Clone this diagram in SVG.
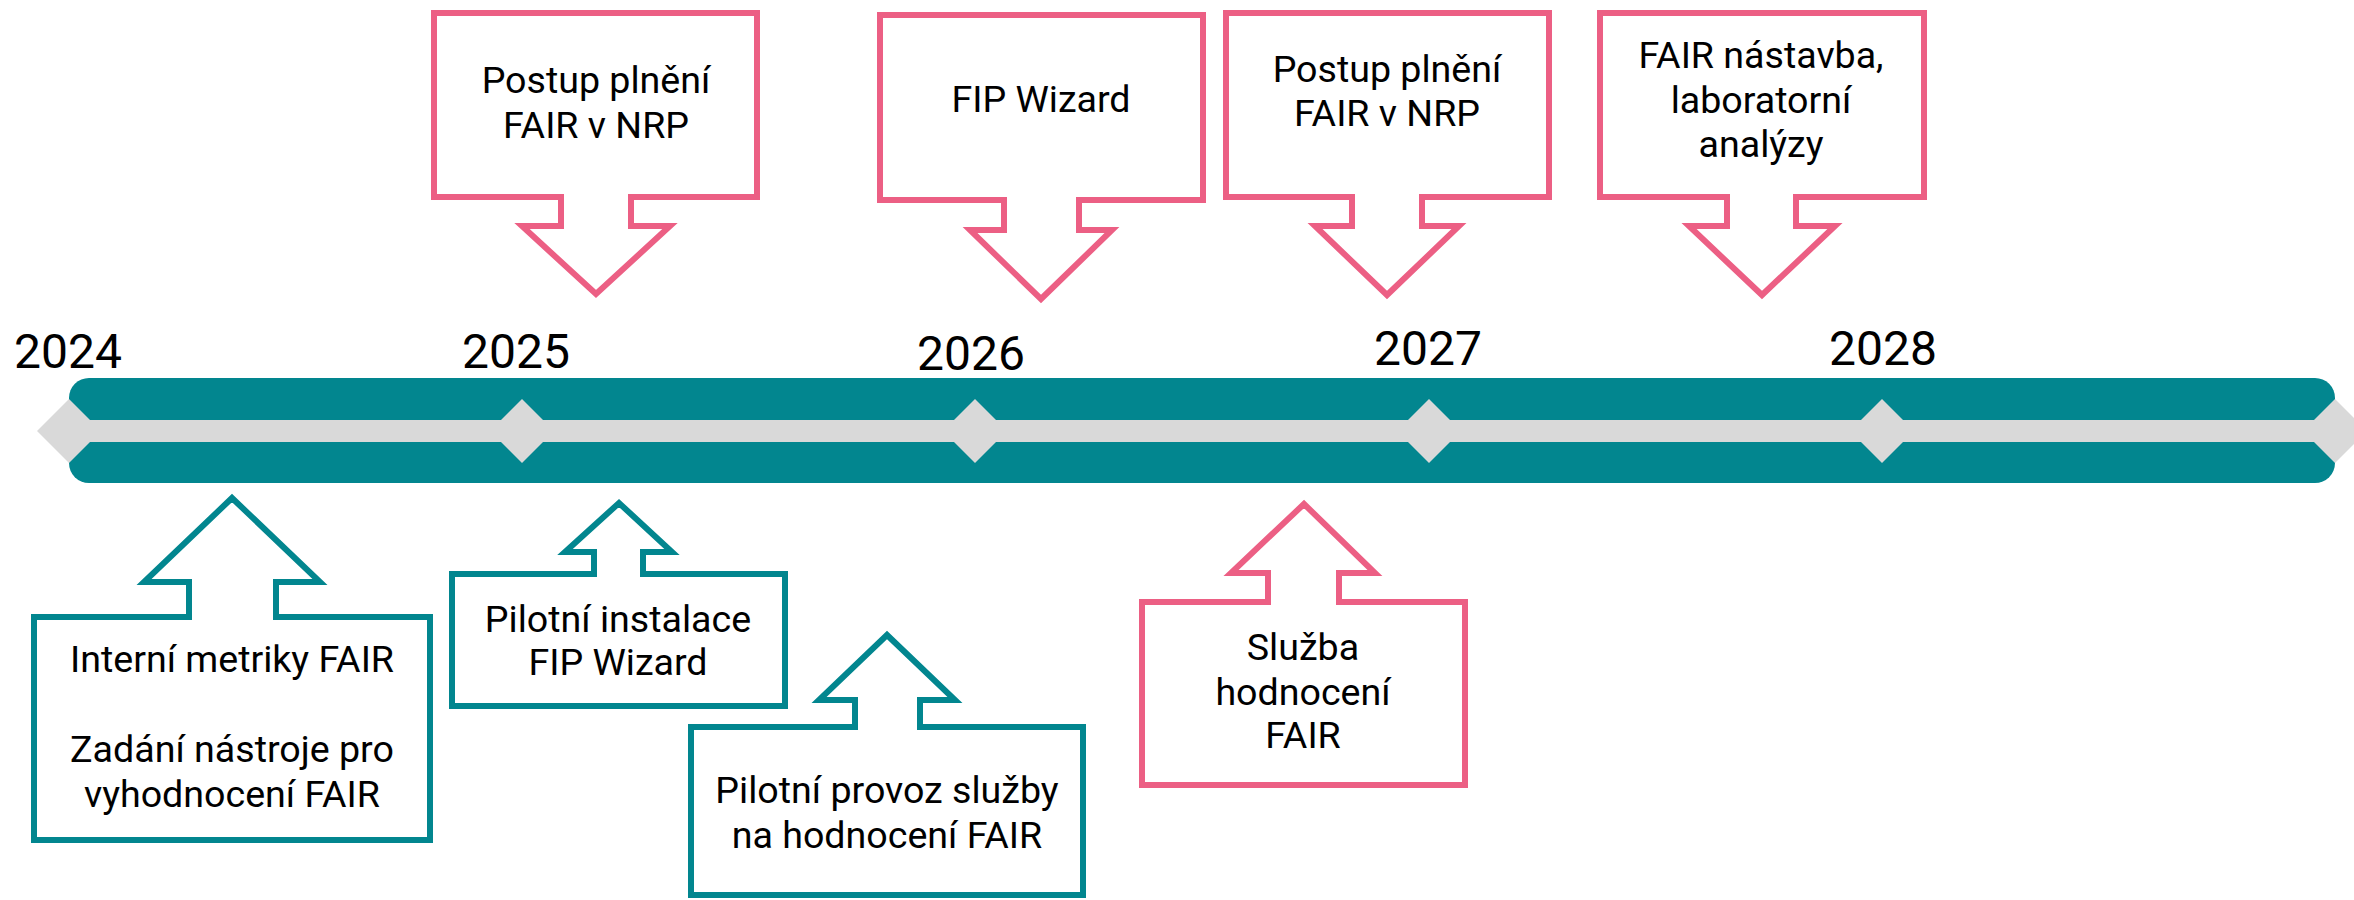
<svg xmlns="http://www.w3.org/2000/svg" width="2354" height="900" viewBox="0 0 2354 900">
  <style>
    .t { font-family: Roboto, "Liberation Sans", sans-serif; font-size: 37.6px; fill: #000; text-anchor: middle; }
    .yr { font-family: Roboto, "Liberation Sans", sans-serif; font-size: 48px; fill: #000; text-anchor: middle; }
    .pink { fill: #fff; stroke: #EC5F84; stroke-width: 6; stroke-linejoin: miter; }
    .teal { fill: #fff; stroke: #02868F; stroke-width: 6; stroke-linejoin: miter; }
    .dia { fill: #D9D9D9; }
  </style>
  <rect width="2354" height="900" fill="#fff"/>

  <g id="timeline">
    <rect x="69" y="378" width="2266" height="105" rx="20" ry="20" fill="#02868F"/>
    <rect x="69" y="420" width="2266" height="22" fill="#D9D9D9"/>
    <polygon class="dia" points="69,399 101,431 69,463 37,431"/>
    <polygon class="dia" points="522,399 554,431 522,463 490,431"/>
    <polygon class="dia" points="975,399 1007,431 975,463 943,431"/>
    <polygon class="dia" points="1429,399 1461,431 1429,463 1397,431"/>
    <polygon class="dia" points="1882,399 1914,431 1882,463 1850,431"/>
    <polygon class="dia" points="2335,399 2367,431 2335,463 2303,431"/>
    <text class="yr" x="68" y="368">2024</text>
    <text class="yr" x="516" y="368">2025</text>
    <text class="yr" x="971" y="370">2026</text>
    <text class="yr" x="1428" y="365">2027</text>
    <text class="yr" x="1883" y="365">2028</text>
  </g>

  <g id="connectors"></g>

  <g id="top1">
    <path class="pink" d="M434,13 H757 V197 H631 V226 H670 L596,294 L522,226 H561 V197 H434 Z"/>
    <text class="t" x="596" y="93">Postup plnění</text>
    <text class="t" x="596" y="138">FAIR v NRP</text>
  </g>
  <g id="top2">
    <path class="pink" d="M880,15 H1203 V200 H1079 V230 H1112 L1041,299 L970,230 H1004 V200 H880 Z"/>
    <text class="t" x="1041" y="112">FIP Wizard</text>
  </g>
  <g id="top3">
    <path class="pink" d="M1226,13 H1549 V197 H1422 V226 H1459 L1387,295 L1315,226 H1352 V197 H1226 Z"/>
    <text class="t" x="1387" y="82">Postup plnění</text>
    <text class="t" x="1387" y="126">FAIR v NRP</text>
  </g>
  <g id="top4">
    <path class="pink" d="M1600,13 H1924 V197 H1796 V226 H1835 L1762,295 L1689,226 H1727 V197 H1600 Z"/>
    <text class="t" x="1761" y="68">FAIR nástavba,</text>
    <text class="t" x="1761" y="113">laboratorní</text>
    <text class="t" x="1761" y="157">analýzy</text>
  </g>

  <g id="bottom1">
    <path class="teal" d="M34,617 H189 V582 H144 L232,498 L320,582 H276 V617 H430 V840 H34 Z"/>
    <text class="t" x="232" y="672">Interní metriky FAIR</text>
    <text class="t" x="232" y="762">Zadání nástroje pro</text>
    <text class="t" x="232" y="807">vyhodnocení FAIR</text>
  </g>
  <g id="bottom2">
    <path class="teal" d="M452,574 H594 V552 H565 L619,503 L672,552 H643 V574 H785 V706 H452 Z"/>
    <text class="t" x="618" y="632">Pilotní instalace</text>
    <text class="t" x="618" y="675">FIP Wizard</text>
  </g>
  <g id="bottom3">
    <path class="teal" d="M691,727 H855 V700 H819 L887,635 L955,700 H920 V727 H1083 V895 H691 Z"/>
    <text class="t" x="887" y="803">Pilotní provoz služby</text>
    <text class="t" x="887" y="848">na hodnocení FAIR</text>
  </g>
  <g id="bottom4">
    <path class="pink" d="M1142,602 H1268 V573 H1231 L1304,504 L1375,573 H1339 V602 H1465 V785 H1142 Z"/>
    <text class="t" x="1303" y="660">Služba</text>
    <text class="t" x="1303" y="705">hodnocení</text>
    <text class="t" x="1303" y="748">FAIR</text>
  </g>
</svg>
